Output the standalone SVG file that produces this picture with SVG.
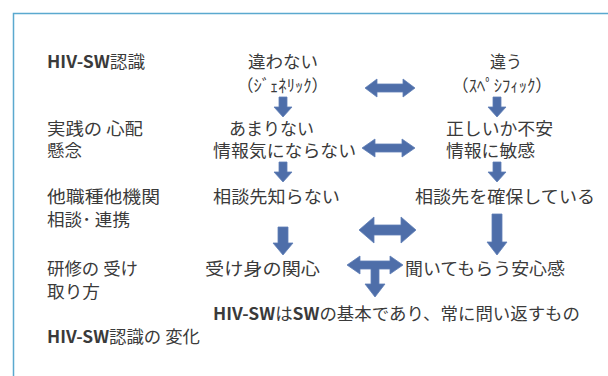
<svg xmlns="http://www.w3.org/2000/svg" width="608" height="376" viewBox="0 0 608 376">
<style>
text{font-family:"Noto Sans CJK JP","Noto Sans",sans-serif;font-size:16.5px;fill:#3a3a3a}
.b{font-weight:bold}
.arr{fill:#4e6ea9;stroke:#5f7fb6;stroke-width:0.8}
</style>
<rect width="608" height="376" fill="#fff"/>
<path d="M13.5,376 V13.5 H608" fill="none" stroke="#5aa9cf" stroke-width="1.5"/>
<g id="labels">
<text x="47" y="68" textLength="98" lengthAdjust="spacingAndGlyphs"><tspan class="b">HIV-SW</tspan>認識</text>
<text x="47" y="135" textLength="96" lengthAdjust="spacingAndGlyphs">実践の 心配</text>
<text x="47" y="157" textLength="35" lengthAdjust="spacingAndGlyphs">懸念</text>
<text x="47" y="203" textLength="113" lengthAdjust="spacingAndGlyphs">他職種他機関</text>
<text x="47" y="226" textLength="83" lengthAdjust="spacingAndGlyphs">相談･ 連携</text>
<text x="47" y="275" textLength="91" lengthAdjust="spacingAndGlyphs">研修の 受け</text>
<text x="47" y="298" textLength="53" lengthAdjust="spacingAndGlyphs">取り方</text>
<text x="47" y="343" textLength="153" lengthAdjust="spacingAndGlyphs"><tspan class="b">HIV-SW</tspan>認識の 変化</text>
</g>
<g id="generic">
<text x="248" y="68" textLength="70" lengthAdjust="spacingAndGlyphs">違わない</text>
<text x="237" y="92" textLength="91" lengthAdjust="spacingAndGlyphs">（ｼﾞｪﾈﾘｯｸ）</text>
</g>
<g id="specific">
<text x="490" y="68" textLength="32" lengthAdjust="spacingAndGlyphs">違う</text>
<text x="452" y="92" textLength="100" lengthAdjust="spacingAndGlyphs">（ｽﾍﾟｼﾌｨｯｸ）</text>
</g>
<g id="worry-low">
<text x="229" y="135" textLength="85" lengthAdjust="spacingAndGlyphs">あまりない</text>
<text x="213" y="157" textLength="143" lengthAdjust="spacingAndGlyphs">情報気にならない</text>
</g>
<g id="worry-high">
<text x="446" y="135" textLength="107" lengthAdjust="spacingAndGlyphs">正しいか不安</text>
<text x="446" y="157" textLength="89" lengthAdjust="spacingAndGlyphs">情報に敏感</text>
</g>
<g id="consult-no">
<text x="213" y="203" textLength="127" lengthAdjust="spacingAndGlyphs">相談先知らない</text>
</g>
<g id="consult-yes">
<text x="415" y="203" textLength="180" lengthAdjust="spacingAndGlyphs">相談先を確保している</text>
</g>
<g id="training-passive">
<text x="205" y="275" textLength="115" lengthAdjust="spacingAndGlyphs">受け身の関心</text>
</g>
<g id="training-secure">
<text x="405" y="275" textLength="160" lengthAdjust="spacingAndGlyphs">聞いてもらう安心感</text>
</g>
<g id="conclusion">
<text x="213" y="320" textLength="367" lengthAdjust="spacingAndGlyphs"><tspan class="b">HIV-SW</tspan>は<tspan class="b">SW</tspan>の基本であり、常に問い返すもの</text>
</g>
<g id="connectors">
<path class="arr" d="M365,88 L377,79 L377,84 L403,84 L403,79 L415,88 L403,97 L403,92 L377,92 L377,97 Z"/>
<path class="arr" d="M362,148 L375,139 L375,144 L402,144 L402,139 L415,148 L402,157 L402,152 L375,152 L375,157 Z"/>
<path class="arr" d="M359,230 L374,217 L374,225 L401,225 L401,217 L416,230 L401,243 L401,235 L374,235 L374,243 Z"/>
<path class="arr" d="M347,265 L360,256 L360,261 L390,261 L390,256 L403,265 L390,274 L390,269 L379,269 L379,284 L385,284 L375,297 L365,284 L371,284 L371,269 L360,269 L360,274 Z"/>
<path class="arr" d="M279,97 H287 V107 H292 L283,117 L274,107 H279 Z"/>
<path class="arr" d="M493,97 H501 V107 H506 L497,117 L488,107 H493 Z"/>
<path class="arr" d="M279,162 H287 V172 H292 L283,182 L274,172 H279 Z"/>
<path class="arr" d="M493,162 H501 V172 H506 L497,182 L488,172 H493 Z"/>
<path class="arr" d="M278,227 H288 V243 H293 L283,255 L273,243 H278 Z"/>
<path class="arr" d="M492,214 H502 V242 H507 L497,255 L487,242 H492 Z"/>
</g>
</svg>
